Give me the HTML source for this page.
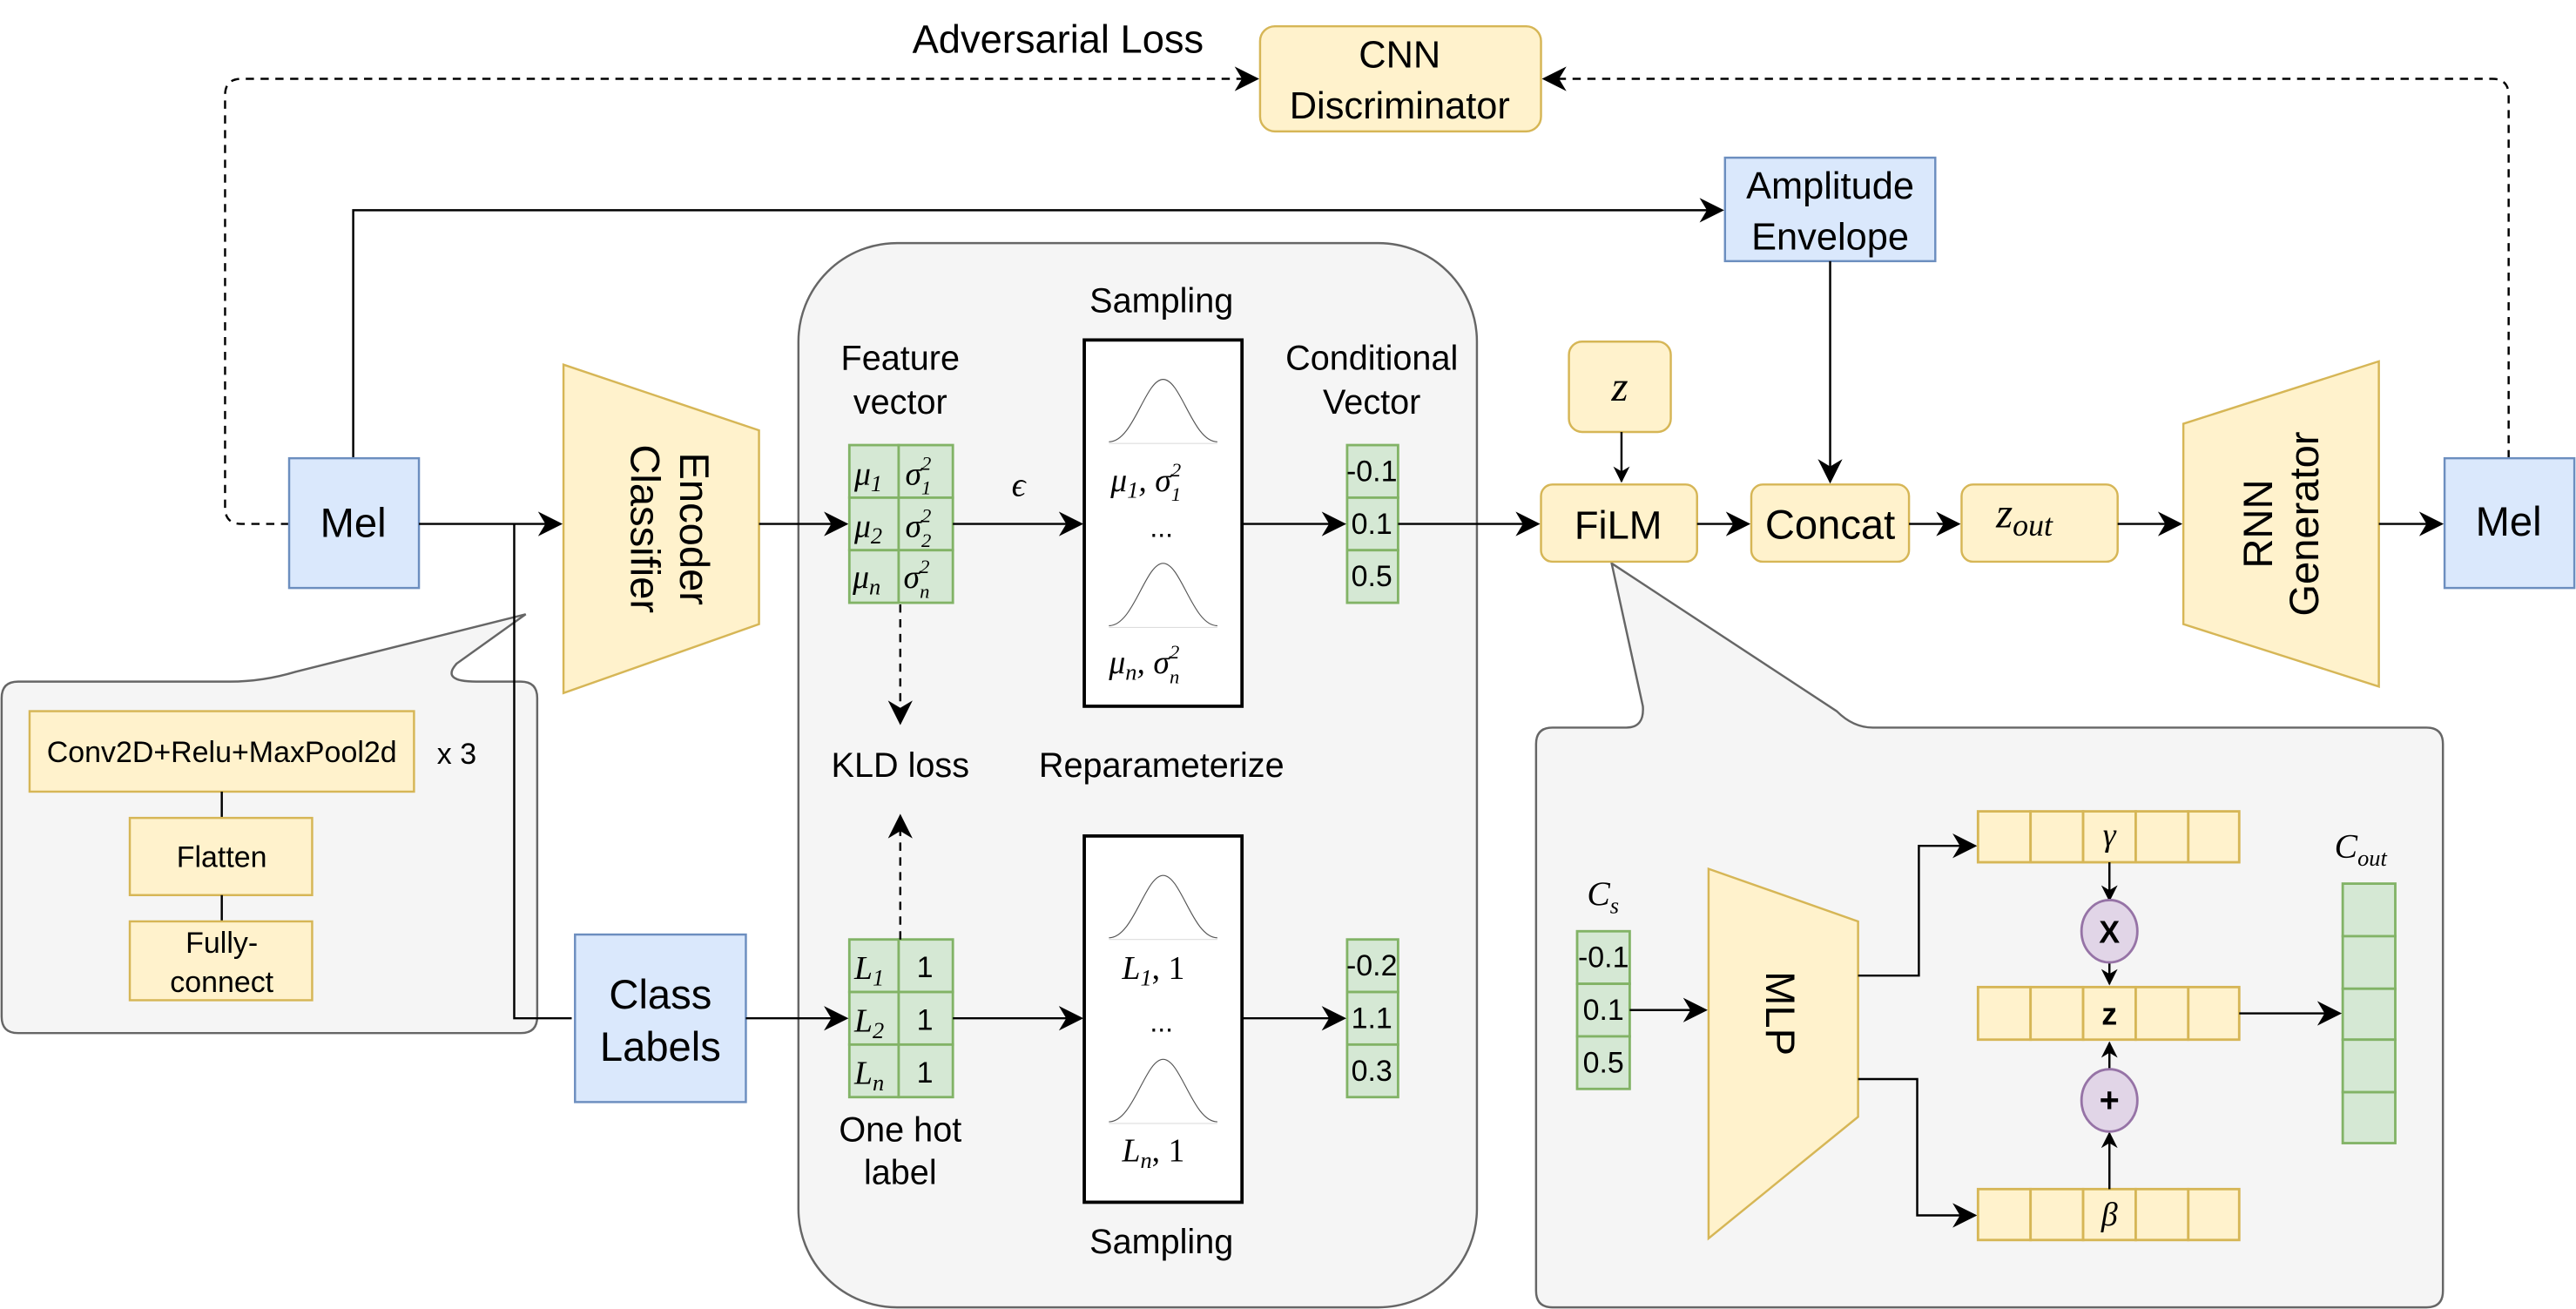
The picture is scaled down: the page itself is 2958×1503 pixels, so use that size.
<!DOCTYPE html>
<html><head><meta charset="utf-8"><style>
html,body{margin:0;padding:0;background:#fff;}
svg{display:block;}
text{font-family:"Liberation Sans",sans-serif;fill:#000;}
.m{font-family:"Liberation Serif",serif;font-style:italic;}
</style></head><body>
<svg width="2958" height="1503" viewBox="0 0 1568 797" preserveAspectRatio="none" xmlns="http://www.w3.org/2000/svg">
<defs>
<marker id="a" viewBox="0 0 10 10" refX="9" refY="5" markerWidth="10" markerHeight="10" markerUnits="userSpaceOnUse" orient="auto">
<path d="M0,0 L10,5 L0,10 L3,5 Z" fill="#000"/></marker>
<marker id="b" viewBox="0 0 10 10" refX="9" refY="5" markerWidth="15" markerHeight="15" markerUnits="userSpaceOnUse" orient="auto">
<path d="M0,0 L10,5 L0,10 L3,5 Z" fill="#000"/></marker>
</defs>
<g stroke-width="1.3">
<path d="M176,319 H147 Q137,319 137,309 V58 Q137,48 147,48 H765" fill="none" stroke="#000" stroke-dasharray="5,4" marker-end="url(#b)"/>
<path d="M1527,279 V58 Q1527,48 1517,48 H940" fill="none" stroke="#000" stroke-dasharray="5,4" marker-end="url(#b)"/>
<text x="644" y="32" font-size="24" text-anchor="middle">Adversarial Loss</text>
<rect x="767" y="16" width="171" height="64" rx="9" fill="#fff2cc" stroke="#d6b656"/>
<text x="852" y="41" font-size="23" text-anchor="middle">CNN</text>
<text x="852" y="72" font-size="23" text-anchor="middle">Discriminator</text>
<path d="M215,279 V128 H1048" fill="none" stroke="#000" marker-end="url(#b)"/>
<rect x="1050" y="96" width="128" height="63" fill="#dae8fc" stroke="#6c8ebf"/>
<text x="1114" y="121" font-size="23" text-anchor="middle">Amplitude</text>
<text x="1114" y="152" font-size="23" text-anchor="middle">Envelope</text>
<path d="M1114,159 V293" fill="none" stroke="#000" marker-end="url(#b)"/>

<rect x="486" y="148" width="413" height="648" rx="60" fill="#f5f5f5" stroke="#666"/>

<path d="M11,415 H140 Q160,415 180,409 L320,374 L278,404 Q268,415 290,415 H317 Q327,415 327,425 V619 Q327,629 317,629 H11 Q1,629 1,619 V425 Q1,415 11,415 Z" fill="#f5f5f5" stroke="#666"/>
<rect x="18" y="433" width="234" height="49" fill="#fff2cc" stroke="#d6b656"/>
<text x="135" y="464" font-size="18" text-anchor="middle">Conv2D+Relu+MaxPool2d</text>
<text x="278" y="465" font-size="18" text-anchor="middle">x 3</text>
<line x1="135" y1="482" x2="135" y2="498" stroke="#000"/>
<rect x="79" y="498" width="111" height="47" fill="#fff2cc" stroke="#d6b656"/>
<text x="135" y="528" font-size="18" text-anchor="middle">Flatten</text>
<line x1="135" y1="545" x2="135" y2="561" stroke="#000"/>
<rect x="79" y="561" width="111" height="48" fill="#fff2cc" stroke="#d6b656"/>
<text x="135" y="580" font-size="18" text-anchor="middle">Fully-</text>
<text x="135" y="604" font-size="18" text-anchor="middle">connect</text>

<rect x="176" y="279" width="79" height="79" fill="#dae8fc" stroke="#6c8ebf"/>
<text x="215" y="327" font-size="25" text-anchor="middle">Mel</text>
<path d="M255,319 H341" fill="none" stroke="#000" marker-end="url(#b)"/>
<path d="M313,319 V620 H348" fill="none" stroke="#000"/>
<path d="M343,222 L462,262 L462,380 L343,422 Z" fill="#fff2cc" stroke="#d6b656"/>
<text transform="translate(406,322) rotate(90)" font-size="25" text-anchor="middle" y="-8">Encoder</text>
<text transform="translate(406,322) rotate(90)" font-size="25" text-anchor="middle" y="22">Classifier</text>
<rect x="350" y="569" width="104" height="102" fill="#dae8fc" stroke="#6c8ebf"/>
<text x="402" y="614" font-size="25" text-anchor="middle">Class</text>
<text x="402" y="646" font-size="25" text-anchor="middle">Labels</text>

<text x="707" y="190" font-size="21" text-anchor="middle">Sampling</text>
<text x="548" y="225" font-size="21" text-anchor="middle">Feature</text>
<text x="548" y="252" font-size="21" text-anchor="middle">vector</text>
<text x="835" y="225" font-size="21" text-anchor="middle">Conditional</text>
<text x="835" y="252" font-size="21" text-anchor="middle">Vector</text>
<path d="M462,319 H515" fill="none" stroke="#000" marker-end="url(#b)"/>
<g fill="#d5e8d4" stroke="#82b366" stroke-width="1.5">
<rect x="517" y="271" width="30" height="32"/><rect x="547" y="271" width="33" height="32"/>
<rect x="517" y="303" width="30" height="32"/><rect x="547" y="303" width="33" height="32"/>
<rect x="517" y="335" width="30" height="32"/><rect x="547" y="335" width="33" height="32"/>
<rect x="820" y="271" width="31" height="32"/><rect x="820" y="303" width="31" height="32"/><rect x="820" y="335" width="31" height="32"/>
<rect x="517" y="572" width="30" height="32"/><rect x="547" y="572" width="33" height="32"/>
<rect x="517" y="604" width="30" height="32"/><rect x="547" y="604" width="33" height="32"/>
<rect x="517" y="636" width="30" height="32"/><rect x="547" y="636" width="33" height="32"/>
<rect x="820" y="572" width="31" height="32"/><rect x="820" y="604" width="31" height="32"/><rect x="820" y="636" width="31" height="32"/>
</g>
<g font-size="20">
<text class="m" x="520" y="295">μ<tspan font-size="14" dy="4">1</tspan></text>
<text class="m" x="551" y="295">σ<tspan font-size="12" dy="-9">2</tspan><tspan font-size="12" dx="-6" dy="15">1</tspan></text>
<text class="m" x="520" y="327">μ<tspan font-size="14" dy="4">2</tspan></text>
<text class="m" x="551" y="327">σ<tspan font-size="12" dy="-9">2</tspan><tspan font-size="12" dx="-6" dy="15">2</tspan></text>
<text class="m" x="519" y="358">μ<tspan font-size="14" dy="4">n</tspan></text>
<text class="m" x="550" y="358">σ<tspan font-size="12" dy="-9">2</tspan><tspan font-size="12" dx="-6" dy="15">n</tspan></text>
<text class="m" x="520" y="596">L<tspan font-size="14" dy="4">1</tspan></text>
<text class="m" x="520" y="628">L<tspan font-size="14" dy="4">2</tspan></text>
<text class="m" x="520" y="660">L<tspan font-size="14" dy="4">n</tspan></text>
</g>
<g font-size="18">
<text x="563" y="595" text-anchor="middle">1</text><text x="563" y="627" text-anchor="middle">1</text><text x="563" y="659" text-anchor="middle">1</text>
<text x="835" y="293" text-anchor="middle">-0.1</text><text x="835" y="325" text-anchor="middle">0.1</text><text x="835" y="357" text-anchor="middle">0.5</text>
<text x="835" y="594" text-anchor="middle">-0.2</text><text x="835" y="626" text-anchor="middle">1.1</text><text x="835" y="658" text-anchor="middle">0.3</text>
</g>
<text class="m" x="620" y="302" font-size="21" text-anchor="middle">ϵ</text>
<path d="M580,319 H658" fill="none" stroke="#000" marker-end="url(#b)"/>
<path d="M580,620 H658" fill="none" stroke="#000" marker-end="url(#b)"/>
<path d="M454,620 H515" fill="none" stroke="#000" marker-end="url(#b)"/>
<path d="M756,319 H818" fill="none" stroke="#000" marker-end="url(#b)"/>
<path d="M756,620 H818" fill="none" stroke="#000" marker-end="url(#b)"/>
<path d="M548,368 V440" fill="none" stroke="#000" stroke-dasharray="5,4" marker-end="url(#b)"/>
<path d="M548,572 V497" fill="none" stroke="#000" stroke-dasharray="5,4" marker-end="url(#b)"/>
<text x="548" y="473" font-size="21" text-anchor="middle">KLD loss</text>
<text x="707" y="473" font-size="21" text-anchor="middle">Reparameterize</text>
<text x="548" y="695" font-size="21" text-anchor="middle">One hot</text>
<text x="548" y="721" font-size="21" text-anchor="middle">label</text>
<text x="707" y="763" font-size="21" text-anchor="middle">Sampling</text>
<rect x="660" y="207" width="96" height="223" fill="#fff" stroke="#000" stroke-width="2"/>
<rect x="660" y="509" width="96" height="223" fill="#fff" stroke="#000" stroke-width="2"/>
<g fill="none" stroke="#555" stroke-width="0.6">
<path d="M675,269 C690,269 697,231 708,231 C719,231 726,269 741,269"/>
<path d="M675,381 C690,381 697,343 708,343 C719,343 726,381 741,381"/>
<path d="M675,571 C690,571 697,533 708,533 C719,533 726,571 741,571"/>
<path d="M675,683 C690,683 697,645 708,645 C719,645 726,683 741,683"/>
</g>
<g stroke="#ddd" stroke-width="0.6"><line x1="675" y1="270" x2="741" y2="270"/><line x1="675" y1="382" x2="741" y2="382"/><line x1="675" y1="572" x2="741" y2="572"/><line x1="675" y1="684" x2="741" y2="684"/></g>
<g font-size="20">
<text class="m" x="676" y="299">μ<tspan font-size="14" dy="4">1</tspan><tspan dy="-4">, σ</tspan><tspan font-size="12" dy="-9">2</tspan><tspan font-size="12" dx="-6" dy="15">1</tspan></text>
<text x="707" y="327" text-anchor="middle" font-size="17">...</text>
<text class="m" x="675" y="410">μ<tspan font-size="14" dy="4">n</tspan><tspan dy="-4">, σ</tspan><tspan font-size="12" dy="-9">2</tspan><tspan font-size="12" dx="-6" dy="15">n</tspan></text>
<text class="m" x="683" y="596">L<tspan font-size="14" dy="4">1</tspan><tspan dy="-4" font-style="normal">, 1</tspan></text>
<text x="707" y="628" text-anchor="middle" font-size="17">...</text>
<text class="m" x="683" y="707">L<tspan font-size="14" dy="4">n</tspan><tspan dy="-4" font-style="normal">, 1</tspan></text>
</g>

<path d="M851,319 H936" fill="none" stroke="#000" marker-end="url(#b)"/>
<rect x="955" y="208" width="62" height="55" rx="8" fill="#fff2cc" stroke="#d6b656"/>
<text class="m" x="986" y="244" font-size="26" text-anchor="middle">z</text>
<path d="M987,263 V293" fill="none" stroke="#000" marker-end="url(#a)"/>
<path d="M945,443 H990 Q1001,443 1000,430 L981,343 L1118,433 Q1128,443 1140,443 H1477 Q1487,443 1487,453 V786 Q1487,796 1477,796 H945 Q935,796 935,786 V453 Q935,443 945,443 Z" fill="#f5f5f5" stroke="#666"/>
<rect x="938" y="295" width="95" height="47" rx="7" fill="#fff2cc" stroke="#d6b656"/>
<text x="985" y="328" font-size="24" text-anchor="middle">FiLM</text>
<path d="M1033,319 H1064" fill="none" stroke="#000" marker-end="url(#b)"/>
<rect x="1066" y="295" width="96" height="47" rx="7" fill="#fff2cc" stroke="#d6b656"/>
<text x="1114" y="328" font-size="25" text-anchor="middle">Concat</text>
<path d="M1162,319 H1192" fill="none" stroke="#000" marker-end="url(#b)"/>
<rect x="1194" y="295" width="95" height="47" rx="7" fill="#fff2cc" stroke="#d6b656"/>
<text class="m" x="1215" y="321" font-size="26">z<tspan font-size="19" dy="5">out</tspan></text>
<path d="M1289,319 H1327" fill="none" stroke="#000" marker-end="url(#b)"/>
<path d="M1329,258 L1448,220 L1448,418 L1329,380 Z" fill="#fff2cc" stroke="#d6b656"/>
<text transform="translate(1388,319) rotate(-90)" font-size="25" text-anchor="middle" y="-5">RNN</text>
<text transform="translate(1388,319) rotate(-90)" font-size="25" text-anchor="middle" y="23">Generator</text>
<path d="M1448,319 H1486" fill="none" stroke="#000" marker-end="url(#b)"/>
<rect x="1488" y="279" width="79" height="79" fill="#dae8fc" stroke="#6c8ebf"/>
<text x="1527" y="326" font-size="25" text-anchor="middle">Mel</text>

<text class="m" x="966" y="551" font-size="21">C<tspan font-size="14" dy="5">s</tspan></text>
<g fill="#d5e8d4" stroke="#82b366" stroke-width="1.5">
<rect x="960" y="567" width="32" height="32"/><rect x="960" y="599" width="32" height="32"/><rect x="960" y="631" width="32" height="32"/>
<rect x="1426" y="538" width="32" height="32"/><rect x="1426" y="570" width="32" height="32"/><rect x="1426" y="602" width="32" height="31"/><rect x="1426" y="633" width="32" height="32"/><rect x="1426" y="665" width="32" height="31"/>
</g>
<g font-size="18"><text x="976" y="589" text-anchor="middle">-0.1</text><text x="976" y="621" text-anchor="middle">0.1</text><text x="976" y="653" text-anchor="middle">0.5</text></g>
<text class="m" x="1421" y="522" font-size="21">C<tspan font-size="14" dy="5">out</tspan></text>
<path d="M992,615 H1038" fill="none" stroke="#000" marker-end="url(#b)"/>
<path d="M1040,529 L1131,561 L1131,680 L1040,754 Z" fill="#fff2cc" stroke="#d6b656"/>
<text transform="translate(1083,617) rotate(90)" font-size="25" text-anchor="middle" y="8">MLP</text>
<path d="M1131,594 H1168 V515 H1202" fill="none" stroke="#000" marker-end="url(#b)"/>
<path d="M1131,657 H1167 V740 H1202" fill="none" stroke="#000" marker-end="url(#b)"/>
<g fill="#fff2cc" stroke="#d6b656" stroke-width="1.5">
<rect x="1204" y="494" width="32" height="31"/><rect x="1236" y="494" width="32" height="31"/><rect x="1268" y="494" width="32" height="31"/><rect x="1300" y="494" width="32" height="31"/><rect x="1332" y="494" width="31" height="31"/>
<rect x="1204" y="601" width="32" height="32"/><rect x="1236" y="601" width="32" height="32"/><rect x="1268" y="601" width="32" height="32"/><rect x="1300" y="601" width="32" height="32"/><rect x="1332" y="601" width="31" height="32"/>
<rect x="1204" y="724" width="32" height="31"/><rect x="1236" y="724" width="32" height="31"/><rect x="1268" y="724" width="32" height="31"/><rect x="1300" y="724" width="32" height="31"/><rect x="1332" y="724" width="31" height="31"/>
</g>
<text class="m" x="1284" y="515" font-size="20" text-anchor="middle">γ</text>
<text x="1284" y="624" font-size="19" font-weight="bold" text-anchor="middle">z</text>
<text class="m" x="1284" y="746" font-size="20" text-anchor="middle">β</text>
<path d="M1284,525 V548" fill="none" stroke="#000" marker-end="url(#a)"/>
<path d="M1284,586 V599" fill="none" stroke="#000" marker-end="url(#a)"/>
<path d="M1284,724 V690" fill="none" stroke="#000" marker-end="url(#a)"/>
<path d="M1284,651 V635" fill="none" stroke="#000" marker-end="url(#a)"/>
<ellipse cx="1284" cy="567" rx="17" ry="19" fill="#e1d5e7" stroke="#9673a6" stroke-width="1.5"/>
<ellipse cx="1284" cy="670" rx="17" ry="19" fill="#e1d5e7" stroke="#9673a6" stroke-width="1.5"/>
<text x="1284" y="574" font-size="19" font-weight="bold" text-anchor="middle">X</text>
<text x="1284" y="677" font-size="21" font-weight="bold" text-anchor="middle">+</text>
<path d="M1363,617 H1424" fill="none" stroke="#000" marker-end="url(#b)"/>
</g>
</svg>
</body></html>
